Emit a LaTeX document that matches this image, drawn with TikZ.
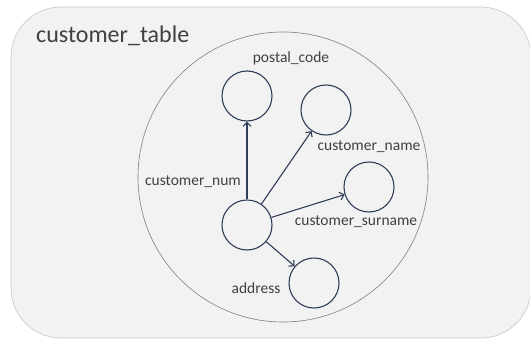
\documentclass[tikz,border=0pt]{standalone}
\usepackage{fontspec}
\usetikzlibrary{arrows.meta}
\setmainfont{Carlito}
\definecolor{panel}{HTML}{F2F2F2}
\definecolor{edge}{HTML}{2F3D58}
\definecolor{ink}{HTML}{404040}
\tikzset{
	attr/.style={circle,draw=edge,line width=1.1pt,minimum size=50pt,inner sep=0pt},
	lbl/.style={text=ink,font=\fontsize{15.5}{18}\selectfont,inner sep=0pt},
	link/.style={-{Straight Barb[length=4pt,width=8pt]},draw=edge,line width=1.1pt}
}
\begin{document}
\begin{tikzpicture}[x=1pt,y=-1pt]
	
	\useasboundingbox (0,0) rectangle (530,340);
	
	\filldraw[fill=panel,draw=black!22,line width=0.6pt,rounded corners=50pt] (11,7) rectangle (531,338);
	\node[anchor=west,text=ink,font=\fontsize{24}{28}\selectfont,inner sep=0pt] (tablelbl) at (36,36) {customer\_table};
	
	\node[circle,draw=black!50,line width=0.6pt,minimum size=290pt,inner sep=0pt] (table) at (283,177) {};
	
	\node[attr] (num) at (247,225) {};
	\node[attr] (postal) at (247,96) {};
	\node[attr] (name) at (326,110) {};
	\node[attr] (surname) at (369,187) {};
	\node[attr] (address) at (314,283) {};
	
	\node[lbl] (postallbl) at (291,58) {postal\_code};
	\node[lbl] (namelbl) at (369,147) {customer\_name};
	\node[lbl] (numlbl) at (193,182) {customer\_num};
	\node[lbl] (surnamelbl) at (356,222) {customer\_surname};
	\node[lbl] (addresslbl) at (256,288) {address};
	
	\draw[link] (num) -- (postal);
	\draw[link] (num) -- (name);
	\draw[link] (num) -- (surname);
	\draw[link] (num) -- (address);
	
\end{tikzpicture}
\end{document}
